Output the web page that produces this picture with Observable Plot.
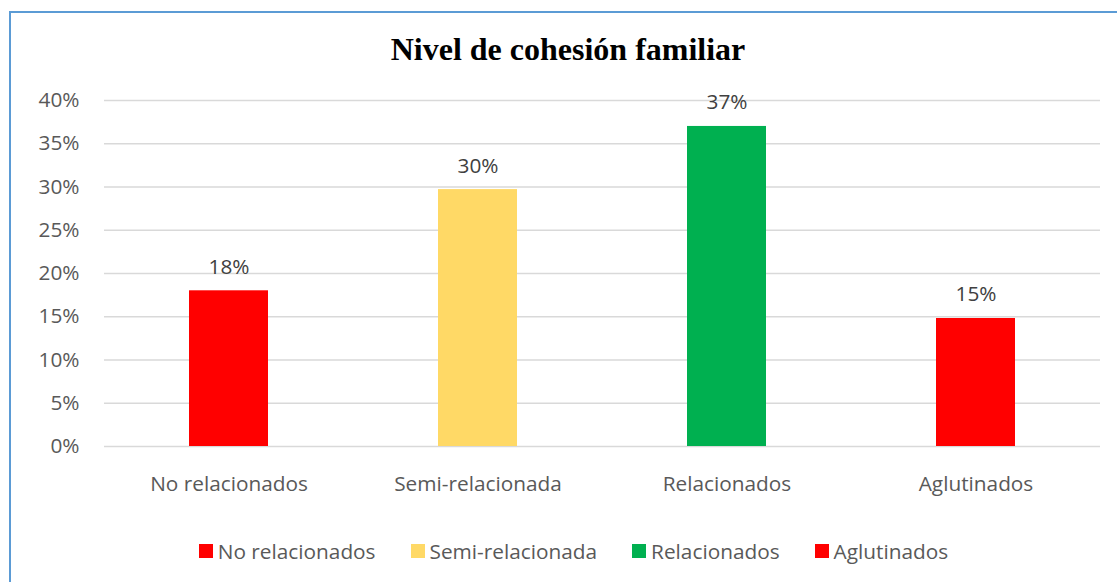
<!DOCTYPE html>
<html>
<head>
<meta charset="utf-8">
<script src="https://cdn.jsdelivr.net/npm/d3@7"></script>
<script src="https://cdn.jsdelivr.net/npm/@observablehq/plot@0.6"></script>
<style>
  html, body { margin: 0; padding: 0; background: #fff; width: 1117px; height: 582px; overflow: hidden; }
  #frame { position: absolute; left: 9px; top: 11px; width: 1130px; height: 600px; border: 2px solid #5B9BD5; box-sizing: border-box; }
  #title { position: absolute; left: 0; width: 1136px; top: 33px; line-height: 32px; text-align: center; font-family: "Liberation Serif", "Times New Roman", serif; font-weight: bold; font-size: 32px; color: #000; }
  #chart { position: absolute; left: 0; top: 70px; }
  #legend { position: absolute; left: 0; width: 1117px; top: 537px; display: flex; justify-content: center; font-family: "Open Sans", sans-serif; font-size: 20.8px; color: #595959; padding-left: 30px; box-sizing: border-box; }
  .item { display: flex; align-items: center; margin-right: 35px; }
  .item:last-child { margin-right: 0; }
  .sw { width: 14px; height: 14px; margin-right: 5px; }
</style>
</head>
<body>
<div id="frame"></div>
<div id="title">Nivel de cohesión familiar</div>
<div id="chart"></div>
<div id="legend"></div>
<script>
const categories = ["No relacionados", "Semi-relacionada", "Relacionados", "Aglutinados"];
const values = [0.18, 0.297, 0.37, 0.148];
const labels = ["18%", "30%", "37%", "15%"];
const colors = ["#FF0000", "#FFD966", "#00B050", "#FF0000"];
const yTicks = [0, 0.05, 0.10, 0.15, 0.20, 0.25, 0.30, 0.35, 0.40];

const data = categories.map((c, i) => ({ category: c, value: values[i], label: labels[i], color: colors[i] }));

const chart = Plot.plot({
  width: 1117,
  height: 440,
  marginTop: 30,
  marginBottom: 64,
  marginLeft: 104,
  marginRight: 17,
  style: { fontFamily: "Open Sans, sans-serif", fontSize: "20.8px", color: "#595959", background: "transparent" },
  x: { domain: categories, paddingInner: 0.683, paddingOuter: 0.3415, label: null, tickSize: 0, tickPadding: 30 },
  y: { domain: [0, 0.40], ticks: yTicks, tickFormat: d3.format(".0%"), label: null, tickSize: 0, tickPadding: 25 },
  marks: [
    Plot.gridY(yTicks, { stroke: "#D9D9D9", strokeOpacity: 1, strokeWidth: 1.3 }),
    Plot.barY(data, { x: "category", y: "value", fill: "color" }),
    Plot.text(data, { x: "category", y: "value", text: "label", lineAnchor: "bottom", dy: -17, fill: "#404040", fontSize: 20.8 })
  ]
});
document.getElementById("chart").appendChild(chart);

const legend = document.getElementById("legend");
categories.forEach((c, i) => {
  const item = document.createElement("div");
  item.className = "item";
  const sw = document.createElement("div");
  sw.className = "sw";
  sw.style.background = colors[i];
  const t = document.createElement("span");
  t.textContent = c;
  item.appendChild(sw);
  item.appendChild(t);
  legend.appendChild(item);
});
</script>
</body>
</html>
